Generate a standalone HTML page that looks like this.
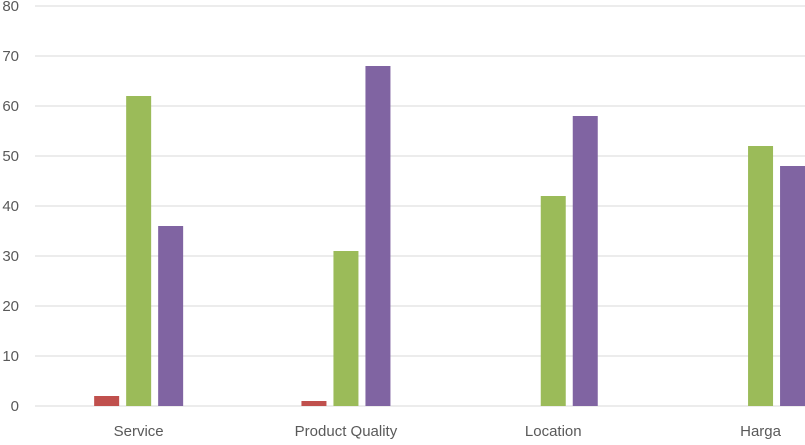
<!DOCTYPE html>
<html><head><meta charset="utf-8"><style>
body{margin:0;background:#fff;}
svg text{font-family:"Liberation Sans",sans-serif;fill:#595959;}
</style></head><body>
<svg id="chart" width="805" height="440" xmlns="http://www.w3.org/2000/svg"></svg>
<script>
const categories=["Service","Product Quality","Location","Harga"];
const series1=[0,0,0,0];
const series2=[2,1,0,0];
const series3=[62,31,42,52];
const series4=[36,68,58,48];
const series5=[0,0,0,0];
const yTicks=[0,10,20,30,40,50,60,70,80];
const seriesList=[series1,series2,series3,series4,series5];
const colors=["#4f81bd","#c0504d","#9bbb59","#8064a2","#f79646"];
const svg=document.getElementById('chart');
const NS="http://www.w3.org/2000/svg";
const x0=35,catW=207.3,y0=406,pxPer=5,barW=25,stride=32;
const y=v=>y0-v*pxPer;
const cx=i=>x0+catW*i+catW/2;
function mk(t,a){const e=document.createElementNS(NS,t);for(const k in a)e.setAttribute(k,a[k]);svg.appendChild(e);return e;}
yTicks.forEach(t=>{
  const l=mk('line',{x1:x0,x2:805,y1:y(t),y2:y(t),stroke:'#d9d9d9','stroke-width':1});
  
  
  const tx=mk('text',{x:19,y:y(t)+5,'text-anchor':'end','font-size':15});
  tx.textContent=t;
  
  
});
categories.forEach((c,i)=>{
  seriesList.forEach((s,k)=>{
    const v=s[i];
    if(v<=0)return;
    const bx=cx(i)-76.5+stride*k;
    const r=mk('rect',{x:bx,y:y(v),width:barW,height:v*pxPer,fill:colors[k]});
    
    
  });
  const tx=mk('text',{x:cx(i),y:y0+30,'text-anchor':'middle','font-size':15});
  tx.textContent=c;
  
  
});
</script>
</body></html>
